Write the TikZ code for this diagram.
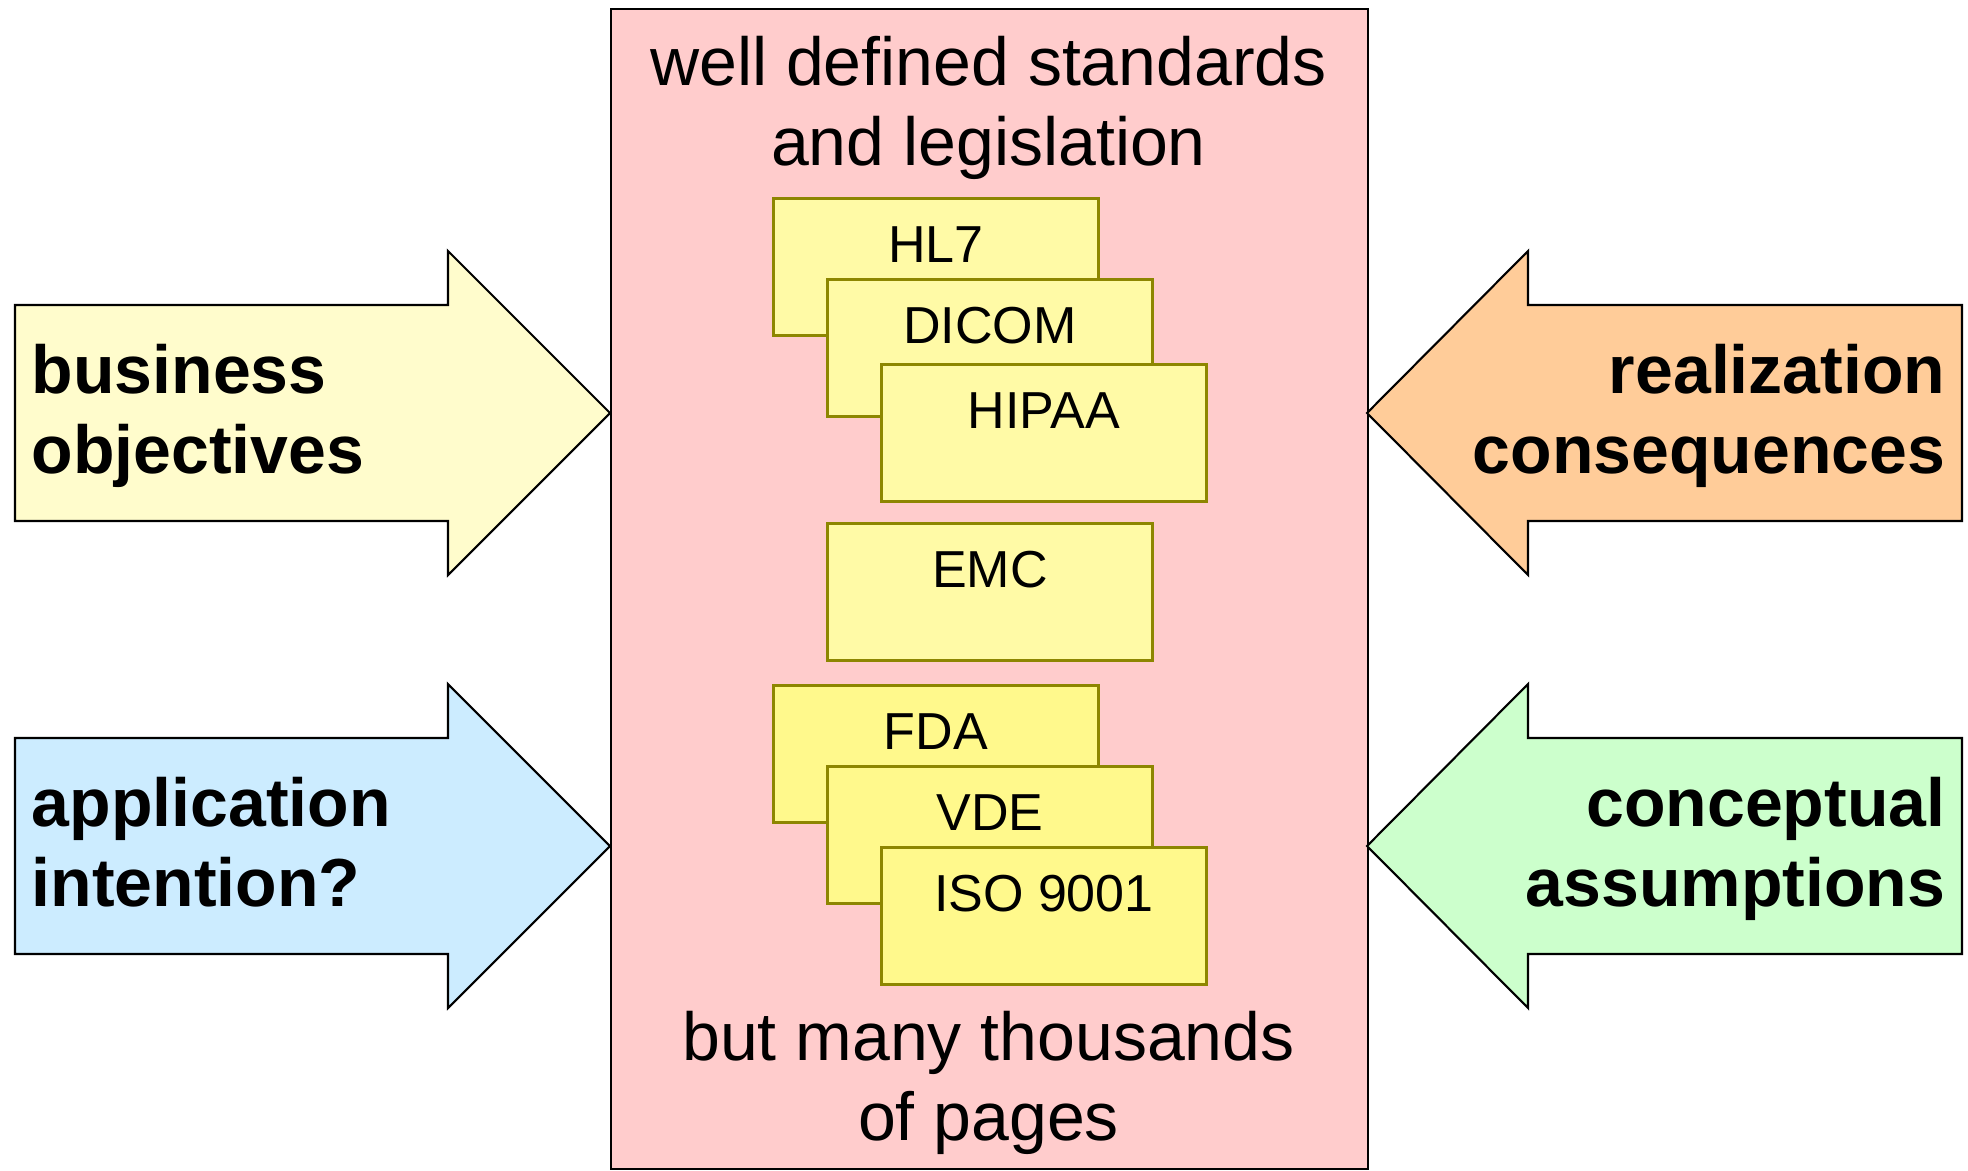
\documentclass[tikz,border=0pt]{standalone}
\usepackage{fontspec}
\setmainfont{Liberation Sans}

\tikzstyle{doc} = [draw=olive, line width=0.8pt, rectangle, anchor=north west,
                   minimum width=32.5mm, inner sep=0mm,
                   text height=6.4mm, text depth=7.3mm,
                   font=\fontsize{14.8}{17.8}\selectfont]
\tikzstyle{bigarrow} = [draw, line width=0.6pt, line join=miter]
\tikzstyle{big} = [inner sep=0mm, font=\fontsize{19.35}{22.76}\selectfont]
\tikzstyle{bigbold} = [inner sep=0mm,
                       font=\fontsize{19.35}{22.76}\selectfont\bfseries]
\definecolor{appblue}{HTML}{CCECFF}
\def\cStd{red!20!white}
\def\cBiz{yellow!20!white}
\def\cApp{appblue}
\def\cReal{orange!40!white}
\def\cConc{green!20!white}
\def\cDocA{yellow!35!white}
\def\cDocB{yellow!45!white}

\begin{document}
\begin{tikzpicture}[x=0.1mm,y=-0.1mm]

\useasboundingbox (0,0) rectangle (1968,1170);

% standards box
\node[draw,fill=\cStd,line width=0.6pt,anchor=north west,
      minimum width=75.7mm,minimum height=116mm,inner sep=0mm]
     at (610,8) (std) {};
\node[big,anchor=base,align=center] at (988.5,165) (stdT)
     {well defined standards\\and legislation};
\node[big,anchor=base,align=center] at (988.5,1140) (stdB)
     {but many thousands\\of pages};

% documents
\node[doc,fill=\cDocA] at (772,197) (HL7) {HL7};
\node[doc,fill=\cDocA] at (826,278) (DICOM) {DICOM};
\node[doc,fill=\cDocA] at (880,363) (HIPAA) {HIPAA};
\node[doc,fill=\cDocA] at (826,522) (EMC) {EMC};
\node[doc,fill=\cDocB] at (772,684) (FDA) {FDA};
\node[doc,fill=\cDocB] at (826,765) (VDE) {VDE};
\node[doc,fill=\cDocB] at (880,846) (ISO) {ISO 9001};

% left arrows
\draw[bigarrow,fill=\cBiz]
     (15,305) -- (448,305) -- (448,251) -- (610,413)
     -- (448,575) -- (448,521) -- (15,521) -- cycle;
\node[bigbold,anchor=base west,align=left] at (31,473) (biz)
     {business\\objectives};

\draw[bigarrow,fill=\cApp]
     (15,738) -- (448,738) -- (448,684) -- (610,846)
     -- (448,1008) -- (448,954) -- (15,954) -- cycle;
\node[bigbold,anchor=base west,align=left] at (31,906) (app)
     {application\\intention?};

% right arrows
\draw[bigarrow,fill=\cReal]
     (1962,305) -- (1528,305) -- (1528,251) -- (1367,413)
     -- (1528,575) -- (1528,521) -- (1962,521) -- cycle;
\node[bigbold,anchor=base east,align=right] at (1946,473) (real)
     {realization\\consequences};

\draw[bigarrow,fill=\cConc]
     (1962,738) -- (1528,738) -- (1528,684) -- (1367,846)
     -- (1528,1008) -- (1528,954) -- (1962,954) -- cycle;
\node[bigbold,anchor=base east,align=right] at (1946,906) (conc)
     {conceptual\\assumptions};

\end{tikzpicture}
\end{document}
